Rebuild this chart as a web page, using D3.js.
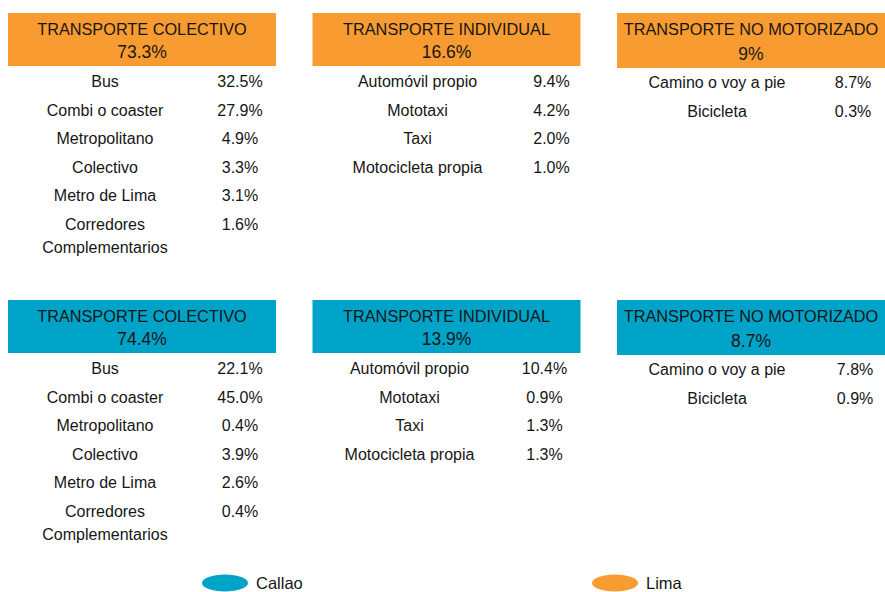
<!DOCTYPE html>
<html>
<head>
<meta charset="utf-8">
<script src="https://cdn.jsdelivr.net/npm/d3@7"></script>
<style>
  body { margin: 0; background: #fff; }
  svg { display: block; font-family: "Liberation Sans", Arial, sans-serif; }
  .head { font-size: 16.3px; fill: #161616; }
  .tot { font-size: 17.5px; fill: #161616; }
  .row { font-size: 16px; fill: #161616; }
  .legend { font-size: 16.5px; fill: #161616; }
</style>
</head>
<body>
<svg width="885" height="592"></svg>
<script>
// categorias de transporte
var groups = ["TRANSPORTE COLECTIVO", "TRANSPORTE INDIVIDUAL", "TRANSPORTE NO MOTORIZADO"];
var colectivo = ["Bus", "Combi o coaster", "Metropolitano", "Colectivo", "Metro de Lima", "Corredores|Complementarios"];
var individual = ["Automóvil propio", "Mototaxi", "Taxi", "Motocicleta propia"];
var noMotor = ["Camino o voy a pie", "Bicicleta"];

// Lima (fila naranja)
var limaTotals = ["73.3%", "16.6%", "9%"];
var limaColectivo = [32.5, 27.9, 4.9, 3.3, 3.1, 1.6];
var limaIndividual = [9.4, 4.2, 2.0, 1.0];
var limaNoMotor = [8.7, 0.3];

// Callao (fila celeste)
var callaoTotals = ["74.4%", "13.9%", "8.7%"];
var callaoColectivo = [22.1, 45.0, 0.4, 3.9, 2.6, 0.4];
var callaoIndividual = [10.4, 0.9, 1.3, 1.3];
var callaoNoMotor = [7.8, 0.9];

var regions = ["Callao", "Lima"];

var svg = d3.select("svg");

var color = d3.scaleOrdinal()
  .domain(regions)
  .range(["#00A3C8", "#F89C31"]);

var colX = d3.scaleBand()
  .domain(groups)
  .range([8, 885])
  .paddingInner(0.12)
  .paddingOuter(0);

var rowY = d3.scaleLinear().domain([0, 1]).range([0, 28.6]);

var layout = {
  Lima:   { top: 13,  totals: limaTotals,   values: [limaColectivo, limaIndividual, limaNoMotor] },
  Callao: { top: 300, totals: callaoTotals, values: [callaoColectivo, callaoIndividual, callaoNoMotor] }
};
var labelSets = [colectivo, individual, noMotor];
// centro de etiqueta y de valor dentro de cada bloque
var labelOff = [[97, 105, 100], [97, 97, 100]];
var valueOff = [[232, 239, 236], [232, 232, 238]];

["Lima", "Callao"].forEach(function(region, r) {
  var L = layout[region];
  var panel = svg.selectAll("g.p" + region)
    .data(groups)
    .enter().append("g")
    .attr("class", "p" + region)
    .attr("transform", d => "translate(" + colX(d) + "," + L.top + ")");

  panel.append("rect")
    .attr("width", colX.bandwidth())
    .attr("height", (d, i) => i == 2 ? 55 : 53)
    .attr("fill", color(region));

  panel.append("text")
    .attr("class", "head")
    .attr("x", colX.bandwidth() / 2)
    .attr("y", 22)
    .attr("text-anchor", "middle")
    .text(d => d);

  panel.append("text")
    .attr("class", "tot")
    .attr("x", colX.bandwidth() / 2)
    .attr("y", (d, i) => i == 2 ? 47 : 45)
    .attr("text-anchor", "middle")
    .text((d, i) => L.totals[i]);

  panel.each(function(g, gi) {
    var p = d3.select(this);
    var base = (gi == 2 ? 75 : 74);
    var rows = labelSets[gi].map((lab, k) => ({ label: lab, value: L.values[gi][k], k: k }));

    var lab = p.selectAll("text.lab")
      .data(rows)
      .enter().append("text")
      .attr("class", "row lab")
      .attr("text-anchor", "middle")
      .attr("x", labelOff[r][gi])
      .attr("y", d => base + rowY(d.k));

    lab.each(function(d) {
      var parts = d.label.split("|");
      d3.select(this).selectAll("tspan")
        .data(parts)
        .enter().append("tspan")
        .attr("x", labelOff[r][gi])
        .attr("dy", (s, j) => j == 0 ? 0 : 22.5)
        .text(s => s);
    });

    p.selectAll("text.val")
      .data(rows)
      .enter().append("text")
      .attr("class", "row val")
      .attr("text-anchor", "middle")
      .attr("x", valueOff[r][gi])
      .attr("y", d => base + rowY(d.k))
      .text(d => d3.format(".1f")(d.value) + "%");
  });
});

// leyenda
var legX = d3.scalePoint().domain(regions).range([225, 615]);
var leg = svg.selectAll("g.leg")
  .data(regions)
  .enter().append("g")
  .attr("class", "leg")
  .attr("transform", d => "translate(" + legX(d) + ",583)");

leg.append("ellipse")
  .attr("rx", 23)
  .attr("ry", 8.5)
  .attr("fill", d => color(d));

leg.append("text")
  .attr("class", "legend")
  .attr("x", 31)
  .attr("y", 6)
  .text(d => d);
</script>
</body>
</html>
